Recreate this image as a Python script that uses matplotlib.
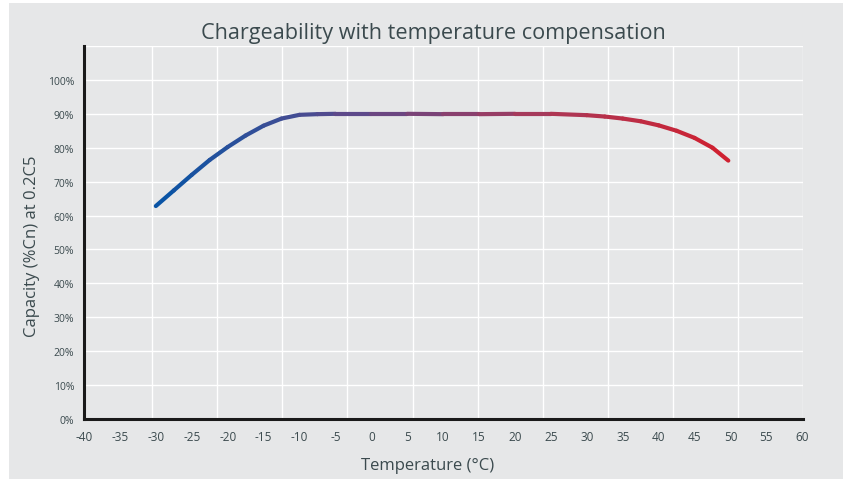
import matplotlib
matplotlib.use("Agg")
import matplotlib.pyplot as plt
from matplotlib.collections import LineCollection
from matplotlib.colors import LinearSegmentedColormap
from matplotlib.patches import Rectangle
import numpy as np

plt.rcParams["font.family"] = ["Open Sans", "DejaVu Sans"]

# values
temps = [-30, -27.5, -25, -22.5, -20, -17.5, -15, -12.5, -10, -7.5, -5, 0, 5, 10,
         15, 20, 25, 30, 32.5, 35, 37.5, 40, 42.5, 45, 47.5, 49.7]
capacity = [62.8, 67.4, 72.0, 76.4, 80.2, 83.6, 86.5, 88.6, 89.7, 89.9, 90.0, 90.0, 90.0, 89.9,
            89.9, 90.0, 90.0, 89.6, 89.2, 88.6, 87.8, 86.6, 85.0, 82.9, 80.0, 76.2]
xtick_vals = list(range(-40, 61, 5))
ytick_vals = list(range(0, 101, 10))
ytick_labels = ["%d%%" % v for v in ytick_vals]

bg = "#e6e7e8"
text_col = "#3b4a4e"

fig = plt.figure(figsize=(8.45, 4.81), dpi=100)
fig.patch.set_facecolor("white")
fig.patches.append(Rectangle((9 / 845, 1 / 481), 834 / 845, 476 / 481,
                             transform=fig.transFigure, facecolor=bg,
                             edgecolor="none", zorder=-10))

ax = fig.add_axes([84 / 845, 61 / 481, 719 / 845, 373 / 481])
ax.set_facecolor(bg)
ax.set_xlim(-40, 60)
ax.set_ylim(0, 110)

# gridlines: the vertical ones don't line up with the labels in the original
ax.set_xticks(xtick_vals)
ax.set_xticklabels([str(v) for v in xtick_vals])
ax.set_xticks(np.arange(-30.5, 61, 9.06), minor=True)
ax.set_yticks(ytick_vals)
ax.set_yticklabels(ytick_labels)
ax.set_yticks([110], minor=True)
ax.grid(False)
ax.grid(True, which="minor", axis="x", color="white", linewidth=1.0)
ax.grid(True, which="major", axis="y", color="white", linewidth=1.0)
ax.grid(True, which="minor", axis="y", color="white", linewidth=1.0)
ax.set_axisbelow(True)
ax.tick_params(which="both", length=0)
ax.tick_params(axis="x", labelsize=8.5, labelcolor=text_col, pad=8)
ax.tick_params(axis="y", labelsize=7.5, labelcolor=text_col, pad=7)

for s in ["top", "right"]:
    ax.spines[s].set_visible(False)
for s in ["left", "bottom"]:
    ax.spines[s].set_color("#1a1a1a")
    ax.spines[s].set_linewidth(2.2)

# blue -> red gradient line
cmap = LinearSegmentedColormap.from_list("br", ["#0654a6", "#5a4a8c", "#a83a5a", "#d0202f"])
pts = np.column_stack([temps, capacity])
segs = np.stack([pts[:-1], pts[1:]], axis=1)
mid = (np.array(temps[:-1]) + np.array(temps[1:])) / 2
norm = plt.Normalize(temps[0], temps[-1])
lc = LineCollection(segs, colors=cmap(norm(mid)), linewidths=3.0, capstyle="round",
                    joinstyle="round", zorder=3)
ax.add_collection(lc)

fig.text(433 / 845, 1 - 34 / 481, "Chargeability with temperature compensation",
         ha="center", va="center", fontsize=15.6, color=text_col)
ax.set_xlabel("Temperature (°C)", fontsize=12, color=text_col)
ax.set_ylabel("Capacity (%Cn) at 0.2C5", fontsize=12, color=text_col)
ax.xaxis.set_label_coords(0.478, -0.102)
ax.yaxis.set_label_coords(-0.061, 0.466)

fig.savefig("out.png", dpi=100, facecolor=fig.get_facecolor())
